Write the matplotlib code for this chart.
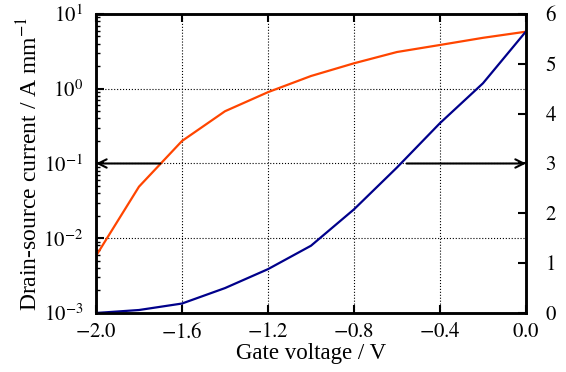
import matplotlib
matplotlib.use("Agg")
import matplotlib.pyplot as plt
import numpy as np

plt.rcParams['font.family'] = ['Liberation Serif', 'DejaVu Serif']
plt.rcParams['mathtext.fontset'] = 'stix'
plt.rcParams['font.size'] = 15
plt.rcParams['axes.unicode_minus'] = True

# gate voltage sweep
gate_v = [-2.0, -1.8, -1.6, -1.4, -1.2, -1.0, -0.8, -0.6, -0.4, -0.2, 0.0]
# drain-source current, log scale (A/mm)
ids_log = [0.0058, 0.049, 0.20, 0.50, 0.90, 1.48, 2.19, 3.1, 3.85, 4.8, 5.8]
# same current on linear scale (A/mm)
ids_lin = [0.0, 0.06, 0.19, 0.50, 0.88, 1.35, 2.08, 2.92, 3.81, 4.61, 5.65]

fig, ax = plt.subplots(figsize=(5.66, 3.72), dpi=100)
fig.subplots_adjust(left=0.1696, right=0.9293, top=0.9624, bottom=0.1586)

ax.plot(gate_v, ids_log, color='#FF4500', lw=1.6)
ax.set_yscale('log')
ax.set_ylim(1e-3, 1e1)
ax.set_xlim(-2.0, 0.0)
ax.set_xticks([-2.0, -1.6, -1.2, -0.8, -0.4, 0.0])
ax.set_xticklabels(['$-2.0$', '$-1.6$', '$-1.2$', '$-0.8$', '$-0.4$', '$0.0$'])
ax.set_yticks([1e-3, 1e-2, 1e-1, 1e0, 1e1])
ax.set_yticklabels(['$10^{-3}$', '$10^{-2}$', '$10^{-1}$', '$10^{0}$', '$10^{1}$'])
ax.grid(True, which='major', linestyle=':', color='black', lw=0.8)
ax.tick_params(which='both', direction='in', top=True, right=False, labelsize=15, width=1.5)
ax.tick_params(which='major', length=6)
ax.tick_params(which='minor', length=3, width=1.0)
ax.tick_params(axis='y', which='major', pad=9)
ax.tick_params(axis='x', which='major', pad=7)
ax.set_xlabel('Gate voltage / V', fontsize=16.5, labelpad=0)
ax.set_ylabel('Drain-source current / A mm$^{-1}$', fontsize=17, labelpad=1)

ax2 = ax.twinx()
ax2.plot(gate_v, ids_lin, color='#00008B', lw=1.6)
ax2.set_ylim(0, 6)
ax2.set_yticks([0, 1, 2, 3, 4, 5, 6])
ax2.set_yticklabels(['$%d$' % v for v in range(7)])
ax2.tick_params(direction='in', length=6, width=1.5, labelsize=15, pad=14)

for a in (ax, ax2):
    for s in a.spines.values():
        s.set_linewidth(1.8)

# arrows showing which axis each curve belongs to
ax.annotate('', xy=(-2.0, 0.1), xytext=(-1.70, 0.1),
            arrowprops=dict(arrowstyle='->', color='black', lw=1.5, shrinkA=0, shrinkB=0))
ax2.annotate('', xy=(0.0, 3), xytext=(-0.555, 3),
             arrowprops=dict(arrowstyle='->', color='black', lw=1.5, shrinkA=0, shrinkB=0))

fig.savefig('out.png', dpi=100)
